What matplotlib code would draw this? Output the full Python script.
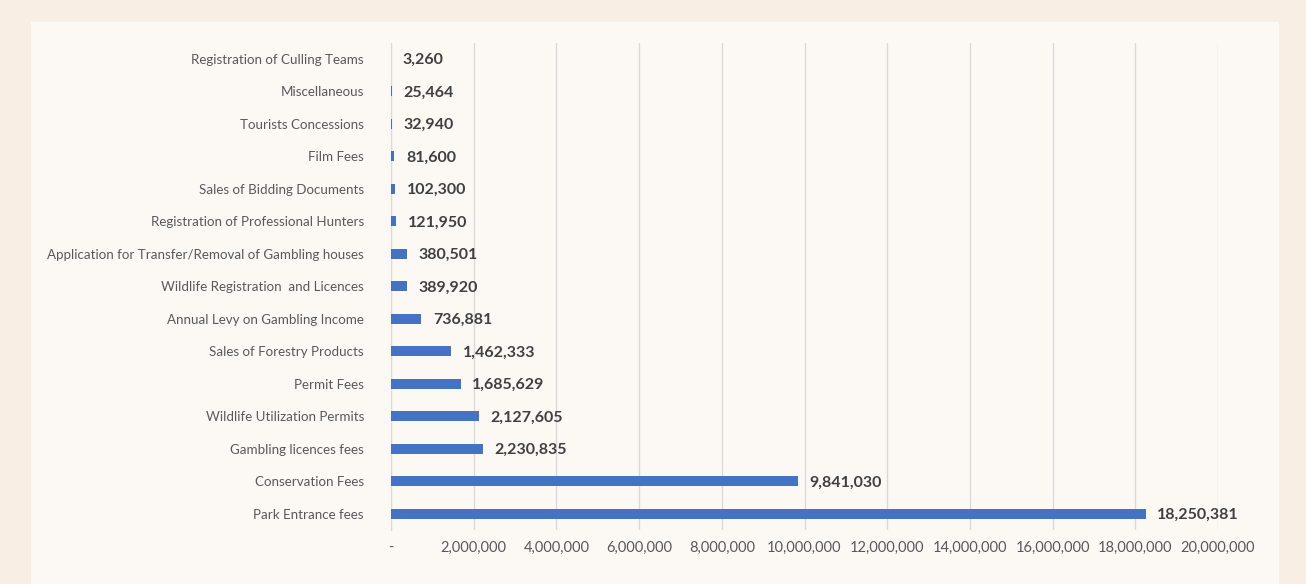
import matplotlib.pyplot as plt
from matplotlib.patches import Rectangle
from matplotlib.ticker import FuncFormatter

plt.rcParams['font.family'] = ['Lato', 'DejaVu Sans']

# revenue sources, largest first (drawn bottom to top)
categories = [
    "Park Entrance fees",
    "Conservation Fees",
    "Gambling licences fees",
    "Wildlife Utilization Permits",
    "Permit Fees",
    "Sales of Forestry Products",
    "Annual Levy on Gambling Income",
    "Wildlife Registration  and Licences",
    "Application for Transfer/Removal of Gambling houses",
    "Registration of Professional Hunters",
    "Sales of Bidding Documents",
    "Film Fees",
    "Tourists Concessions",
    "Miscellaneous",
    "Registration of Culling Teams",
]
values = [18250381, 9841030, 2230835, 2127605, 1685629, 1462333, 736881,
          389920, 380501, 121950, 102300, 81600, 32940, 25464, 3260]
xticks = list(range(0, 20000001, 2000000))

fig = plt.figure(figsize=(13.06, 5.84), dpi=100, facecolor="#f8eee3")
fig.patches.append(Rectangle((31 / 1306, 0), 1248 / 1306, 1 - 22 / 584,
                             transform=fig.transFigure, facecolor="#fcf9f5",
                             edgecolor="none", zorder=-10))

ax = fig.add_axes([391 / 1306, 1 - 530 / 584, 827 / 1306, 487.5 / 584])
ax.set_facecolor("none")

ypos = range(len(categories))
ax.barh(ypos, values, height=0.32, color="#4472c4", zorder=3)

for y, v in zip(ypos, values):
    ax.text(v + 280000, y, f"{v:,}", va="center_baseline", ha="left",
            fontsize=11.5, fontweight="bold", color="#404040")

ax.set_xlim(0, 20000000)
ax.set_ylim(-0.5, len(categories) - 0.5)
ax.set_yticks(list(ypos))
ax.set_yticklabels(categories, fontsize=9.6, color="#595959")
ax.set_xticks(xticks)
ax.xaxis.set_major_formatter(FuncFormatter(lambda x, p: "-" if x == 0 else f"{int(x):,}"))
ax.tick_params(axis="x", labelsize=10.5, labelcolor="#595959", length=0, pad=8)
ax.tick_params(axis="y", length=0, pad=19.5)

ax.grid(axis="x", color="#d9d9d9", linewidth=1, zorder=0)
for s in ["top", "right", "bottom"]:
    ax.spines[s].set_visible(False)
ax.spines["left"].set_color("#d9d9d9")

fig.savefig("out.png", dpi=100, facecolor=fig.get_facecolor())
